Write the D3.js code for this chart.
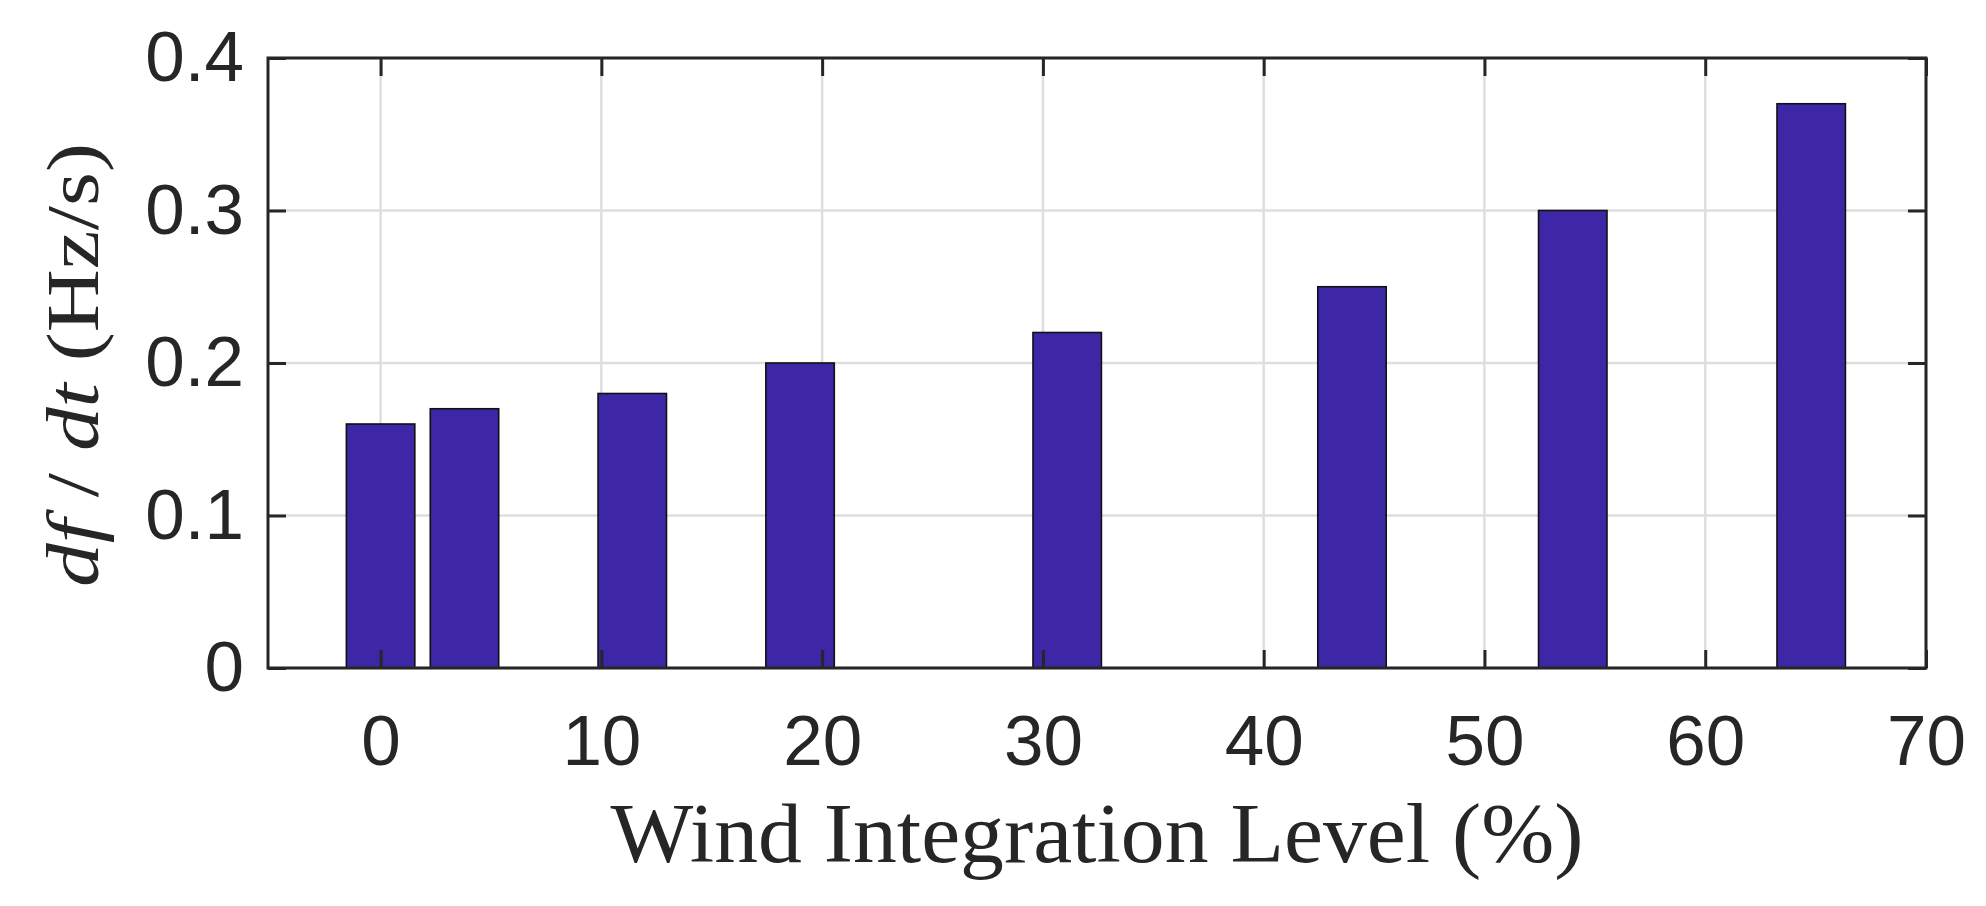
<!DOCTYPE html>
<html>
<head>
<meta charset="utf-8">
<script src="https://cdn.jsdelivr.net/npm/d3@7"></script>
<style>
  html, body { margin: 0; padding: 0; background: #fff; }
  svg { display: block; }
</style>
</head>
<body>
<div id="chart"></div>
<script>
// data (bar centres in %, rate of change of frequency in Hz/s)
var windLevels = [0, 3.8, 11.4, 19, 31.1, 44, 54, 64.8];
var rocofValues = [0.16, 0.17, 0.18, 0.20, 0.22, 0.25, 0.30, 0.37];
var xTicks = [0, 10, 20, 30, 40, 50, 60, 70];
var yTicks = [0, 0.1, 0.2, 0.3, 0.4];

var W = 1986, H = 906;
var plot = {left: 268, right: 1926, top: 58, bottom: 668};
var barWidth = 3.1;      // in x units, like matlab bar() width
var tickLen = 18;
var ink = '#262626';

var svg = d3.select('#chart').append('svg').attr('width', W).attr('height', H);
svg.append('rect').attr('width', W).attr('height', H).attr('fill', '#fff');

var x = d3.scaleLinear().domain([-5.1, 70]).range([plot.left, plot.right]);
var y = d3.scaleLinear().domain([0, 0.4]).range([plot.bottom, plot.top]);

// grid first, bars sit on top of it
var grid = svg.append('g').attr('stroke', '#dedede').attr('stroke-width', 2.5);
grid.selectAll('line.gx').data(xTicks).enter().append('line')
    .attr('x1', function(d){ return x(d); }).attr('x2', function(d){ return x(d); })
    .attr('y1', plot.top).attr('y2', plot.bottom);
grid.selectAll('line.gy').data(yTicks).enter().append('line')
    .attr('y1', function(d){ return y(d); }).attr('y2', function(d){ return y(d); })
    .attr('x1', plot.left).attr('x2', plot.right);

// bars
var bw = x(barWidth) - x(0);
svg.append('g').selectAll('rect').data(windLevels).enter().append('rect')
    .attr('x', function(d){ return x(d) - bw/2; })
    .attr('y', function(d, i){ return y(rocofValues[i]); })
    .attr('width', bw)
    .attr('height', function(d, i){ return y(0) - y(rocofValues[i]); })
    .attr('fill', '#3d27a6')
    .attr('stroke', '#111')
    .attr('stroke-width', 1.6);

// axes: ticks point inward, labels set with padding
var fmtY = function(d){ return d === 0 ? '0' : d3.format('.1f')(d); };

var gx = svg.append('g').attr('transform', 'translate(0,' + plot.bottom + ')')
    .call(d3.axisBottom(x).tickValues(xTicks).tickSizeInner(-tickLen).tickSizeOuter(0).tickPadding(47));
var gxTop = svg.append('g').attr('transform', 'translate(0,' + plot.top + ')')
    .call(d3.axisTop(x).tickValues(xTicks).tickSizeInner(-tickLen).tickSizeOuter(0).tickFormat(''));
var gy = svg.append('g').attr('transform', 'translate(' + plot.left + ',0)')
    .call(d3.axisLeft(y).tickValues(yTicks).tickSizeInner(-tickLen).tickSizeOuter(0).tickPadding(24).tickFormat(fmtY));
var gyRight = svg.append('g').attr('transform', 'translate(' + plot.right + ',0)')
    .call(d3.axisRight(y).tickValues(yTicks).tickSizeInner(-tickLen).tickSizeOuter(0).tickFormat(''));

[gx, gxTop, gy, gyRight].forEach(function(g){
    g.select('.domain').remove();
    g.selectAll('.tick line').attr('stroke', ink).attr('stroke-width', 3);
    g.selectAll('.tick text')
        .attr('fill', ink)
        .style('font-family', '"Liberation Sans", Arial, Helvetica, sans-serif')
        .style('font-size', '71px');
});

// box
svg.append('rect')
    .attr('x', plot.left).attr('y', plot.top)
    .attr('width', plot.right - plot.left).attr('height', plot.bottom - plot.top)
    .attr('fill', 'none').attr('stroke', ink).attr('stroke-width', 3);

// axis titles (latex-ish serif)
var serif = '"Liberation Serif", "Times New Roman", serif';
svg.append('text')
    .attr('x', (plot.left + plot.right) / 2).attr('y', 862)
    .attr('text-anchor', 'middle')
    .attr('fill', ink)
    .style('font-family', serif).style('font-size', '84px')
    .attr('textLength', 973).attr('lengthAdjust', 'spacingAndGlyphs')
    .text('Wind Integration Level (%)');

var yt = svg.append('text')
    .attr('transform', 'translate(98,' + ((plot.top + plot.bottom) / 2 + 2) + ') rotate(-90)')
    .attr('text-anchor', 'middle')
    .attr('fill', ink)
    .style('font-family', serif).style('font-size', '74px')
    .attr('textLength', 444).attr('lengthAdjust', 'spacingAndGlyphs');
yt.append('tspan').style('font-style', 'italic').text('df');
yt.append('tspan').text(' / ');
yt.append('tspan').style('font-style', 'italic').text('dt');
yt.append('tspan').text(' (Hz/s)');
</script>
</body>
</html>
